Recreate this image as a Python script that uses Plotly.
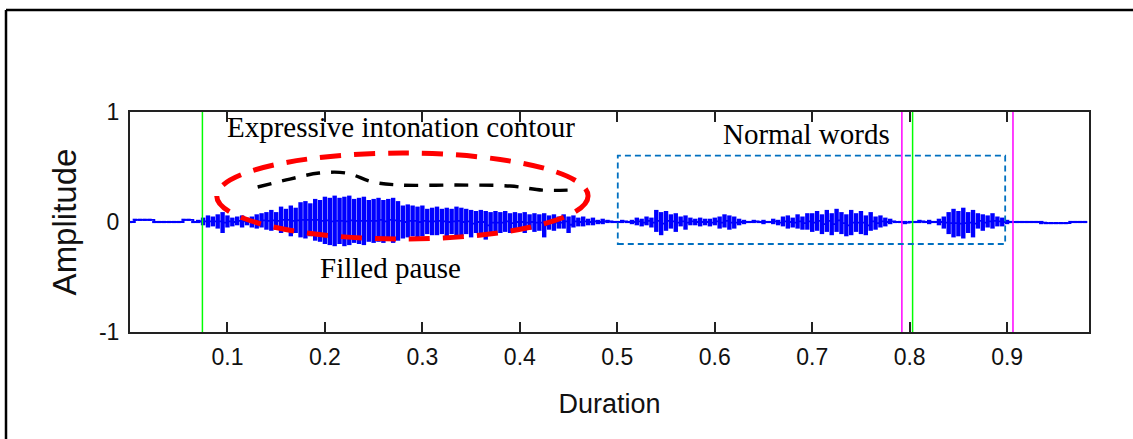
import numpy as np
import plotly.graph_objects as go

# ---------------- data ----------------
# sampling grid of the envelope readings (seconds)
time_s = np.round(np.arange(197) * 0.005, 3)

wave_upper = [
    .01, .03, .03, .03, .03, .01, .01, .01, .01, .01,
    .01, .03, .03, .01, .02, .04, .06, .05, .07, .09,
    .06, .04, .05, .06, .04, .05, .07, .08, .09, .11,
    .09, .14, .12, .15, .13, .18, .19, .17, .21, .20,
    .23, .22, .24, .22, .23, .24, .21, .22, .23, .20,
    .21, .22, .20, .21, .22, .19, .15, .16, .15, .14,
    .15, .12, .13, .14, .12, .13, .12, .14, .13, .12,
    .11, .10, .11, .10, .09, .10, .09, .10, .08, .09,
    .08, .09, .07, .08, .07, .08, .06, .07, .05, .07,
    .05, .06, .04, .05, .03, .04, .02, .03, .02, .01,
    .01, .02, .01, .02, .04, .03, .05, .04, .11, .09,
    .10, .07, .08, .05, .06, .04, .03, .04, .03, .03,
    .04, .05, .07, .06, .05, .03, .02, .01, .02, .01,
    .02, .01, .03, .02, .05, .06, .04, .07, .05, .08,
    .08, .10, .07, .11, .08, .12, .09, .07, .11, .08,
    .10, .06, .09, .05, .06, .04, .03, .01, .01, .01,
    .01, .01, .02, .01, .02, .01, .03, .05, .09, .12,
    .10, .13, .09, .11, .08, .07, .06, .08, .05, .04,
    .02, .01, .01, .01, .01, .01, .01, .01, .00, .00,
    .00, .00, .00, .01, .01, .01, .01,
]
wave_lower = [
    -.01, .01, .01, .01, .01, -.01, -.01, -.01, -.01, -.01,
    -.01, .01, .01, -.01, -.01, -.03, -.05, -.04, -.06, -.10,
    -.05, -.04, -.03, -.05, -.03, -.05, -.06, -.05, -.07, -.08,
    -.07, -.10, -.08, -.13, -.10, -.14, -.15, -.13, -.17, -.18,
    -.20, -.21, -.22, -.20, -.22, -.21, -.19, -.20, -.21, -.18,
    -.19, -.18, -.19, -.17, -.19, -.17, -.15, -.14, -.13, -.14,
    -.13, -.11, -.12, -.12, -.11, -.13, -.11, -.12, -.13, -.11,
    -.14, -.10, -.11, -.16, -.10, -.11, -.10, -.09, -.10, -.09,
    -.08, -.10, -.07, -.09, -.08, -.14, -.07, -.08, -.06, -.06,
    -.10, -.05, -.04, -.04, -.03, -.03, -.02, -.02, -.01, -.01,
    -.01, -.01, -.01, -.02, -.03, -.04, -.03, -.05, -.09, -.12,
    -.08, -.06, -.09, -.04, -.07, -.03, -.03, -.04, -.03, -.04,
    -.03, -.06, -.05, -.07, -.06, -.03, -.02, -.01, -.01, -.01,
    -.02, -.01, -.02, -.03, -.04, -.06, -.05, -.06, -.07, -.07,
    -.09, -.08, -.11, -.09, -.12, -.09, -.11, -.13, -.12, -.09,
    -.11, -.12, -.08, -.07, -.05, -.04, -.02, -.01, -.01, -.02,
    -.01, -.01, -.01, -.01, -.02, -.01, -.03, -.06, -.11, -.14,
    -.13, -.15, -.10, -.14, -.06, -.08, -.05, -.06, -.04, -.04,
    -.02, -.01, -.01, -.01, -.01, -.01, -.01, -.02, -.02, -.02,
    -.02, -.02, -.02, -.01, -.01, -.01, -.01,
]

# intonation contour (black dashed curve)
contour_x = [0.131, 0.164, 0.194, 0.222, 0.249, 0.277, 0.335, 0.390, 0.423, 0.449]
contour_y = [0.318, 0.390, 0.445, 0.445, 0.364, 0.336, 0.336, 0.327, 0.290, 0.290]

# segment boundary markers
green_marks = [0.0743, 0.803]
magenta_marks = [0.792, 0.906]

# highlighted regions
filled_pause_ellipse = [0.089, 0.470, -0.155, 0.627]   # x0, x1, y0, y1
normal_words_box = [0.5005, 0.898, -0.20, 0.603]        # x0, x1, y0, y1

x_ticks = [0.1, 0.2, 0.3, 0.4, 0.5, 0.6, 0.7, 0.8, 0.9]
x_tick_text = ["0.1", "0.2", "0.3", "0.4", "0.5", "0.6", "0.7", "0.8", "0.9"]
y_ticks = [-1, 0, 1]
y_tick_text = ["-1", "0", "1"]

labels = ["Expressive intonation contour", "Normal words", "Filled pause"]
label_x = [0.2776, 0.694, 0.2673]
label_y = [0.86, 0.80, -0.42]

# ---------------- figure ----------------
fig = go.Figure()

# waveform: one vertical stroke per envelope reading, plus the centre line
bar_x, bar_y = [], []
for t, up, lo in zip(time_s, wave_upper, wave_lower):
    bar_x += [t, t, None]
    bar_y += [lo, up, None]
centre = [(u + l) / 2 for u, l in zip(wave_upper, wave_lower)]
fig.add_trace(go.Scatter(x=bar_x, y=bar_y, mode="lines",
                         line=dict(color="#0000FF", width=4.4),
                         hoverinfo="skip", showlegend=False))
fig.add_trace(go.Scatter(x=time_s, y=centre, mode="lines",
                         line=dict(color="#0000FF", width=1.8, shape="hv"),
                         hoverinfo="skip", showlegend=False))

for xv in green_marks:
    fig.add_trace(go.Scatter(x=[xv, xv], y=[-1, 1], mode="lines",
                             line=dict(color="#00FF00", width=1.5), showlegend=False))
for xv in magenta_marks:
    fig.add_trace(go.Scatter(x=[xv, xv], y=[-1, 1], mode="lines",
                             line=dict(color="#FF00FF", width=1.5), showlegend=False))

fig.add_trace(go.Scatter(x=contour_x, y=contour_y, mode="lines",
                         line=dict(color="black", width=3.4, dash="14px,11px", shape="spline"),
                         showlegend=False))

ex0, ex1, ey0, ey1 = filled_pause_ellipse
fig.add_shape(type="circle", xref="x", yref="y", x0=ex0, x1=ex1, y0=ey0, y1=ey1,
              line=dict(color="#FF0000", width=5, dash="21px,13px"))
bx0, bx1, by0, by1 = normal_words_box
fig.add_shape(type="rect", xref="x", yref="y", x0=bx0, x1=bx1, y0=by0, y1=by1,
              line=dict(color="#0070C0", width=1.8, dash="6px,4px"))

for txt, lx, ly in zip(labels, label_x, label_y):
    fig.add_annotation(x=lx, y=ly, xref="x", yref="y", text=txt, showarrow=False,
                       font=dict(family="Liberation Serif, Times New Roman, serif",
                                 size=29, color="black"))

# outer frame (top and left edges of the picture border)
frame = dict(color="black", width=2.5)
fig.add_shape(type="line", xref="paper", yref="paper", x0=-0.1293, x1=-0.1293,
              y0=1.4636, y1=-0.6, line=frame)
fig.add_shape(type="line", xref="paper", yref="paper", x0=-0.1293, x1=1.1,
              y0=1.4636, y1=1.4636, line=frame)

tick_font = dict(family="Liberation Sans, Arial", size=23, color="#111111")
fig.update_layout(
    width=1133, height=439,
    margin=dict(l=130, r=44, t=112, b=107),
    paper_bgcolor="white", plot_bgcolor="white",
    showlegend=False,
    xaxis=dict(range=[0, 0.984], tickvals=x_ticks, ticktext=x_tick_text,
               ticks="inside", ticklen=10, tickwidth=1.5, tickcolor="#222222",
               showline=True, linecolor="#222222", linewidth=2, mirror="ticks",
               showgrid=False, zeroline=False, tickfont=tick_font,
               ticklabelstandoff=3,
               title=dict(text="Duration",
                          font=dict(family="Liberation Sans, Arial", size=27, color="#111111"),
                          standoff=26)),
    yaxis=dict(range=[-1, 1], tickvals=y_ticks, ticktext=y_tick_text,
               ticks="", showline=True, linecolor="#222222", linewidth=2, mirror=True,
               showgrid=False, zeroline=False, tickfont=tick_font,
               ticklabelstandoff=4,
               title=dict(text="Amplitude",
                          font=dict(family="Liberation Sans, Arial", size=33, color="#111111"),
                          standoff=12)),
)

fig.write_html("out.html")
